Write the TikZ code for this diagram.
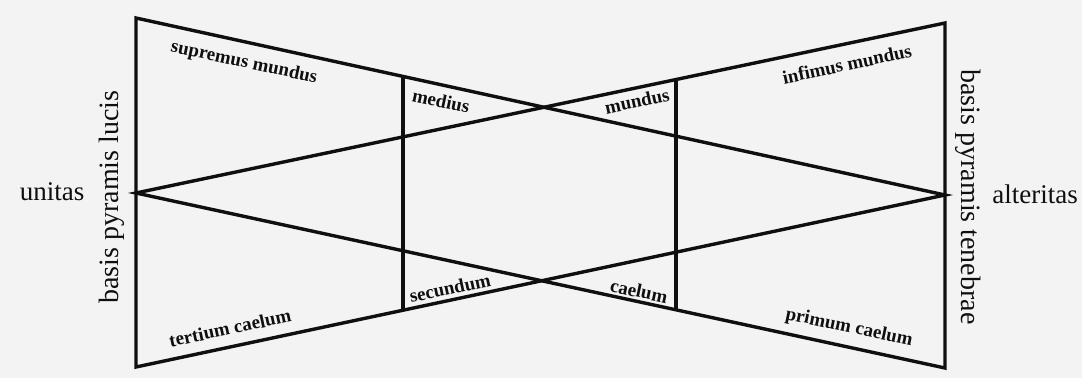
\documentclass[tikz,border=0pt]{standalone}
\usepackage{fontspec}
\setmainfont{Liberation Serif}
\definecolor{ink}{RGB}{15,15,15}
\definecolor{paper}{RGB}{243,243,243}
\usetikzlibrary{calc}
\tikzset{
  edge/.style={draw=ink,line width=3.4pt,line join=miter},
  lbl/.style={font=\fontsize{19}{19}\selectfont\bfseries,text=ink,inner sep=0pt},
  side/.style={font=\fontsize{27}{27}\selectfont,text=ink,inner sep=0pt},
  basis/.style={font=\fontsize{28}{28}\selectfont,text=ink,inner sep=0pt},
}

\begin{document}
\begin{tikzpicture}[x=1pt,y=-1pt]
    \fill[paper] (0,0) rectangle (1082,378);
    \useasboundingbox (0,0) rectangle (1082,378);
    % the two pyramids
    \coordinate (tl) at (136,18);  \coordinate (bl) at (136,367);
    \coordinate (un) at (136,193);
    \coordinate (tr) at (945,23);  \coordinate (br) at (945,368);
    \coordinate (al) at (945,195);
    \coordinate (lt) at ($(tl)!0.33!(al)$);   \coordinate (lb) at ($(bl)!0.33!(al)$);
    \coordinate (rt) at ($(un)!0.6675!(tr)$); \coordinate (rb) at ($(un)!0.6675!(br)$);
    \draw[edge] (tl) -- (bl) -- (al) -- cycle;
    \draw[edge] (tr) -- (br) -- (un) -- cycle;
    \draw[edge] (lt) -- (lb);
    \draw[edge] (rt) -- (rb);
    % outer labels
    \node[side] (unit) at (52,192) {unitas};
    \node[side] (alter) at (1035,194) {alteritas};
    \node[basis,rotate=90] (lucis) at (112,197) {basis pyramis lucis};
    \node[basis,rotate=-90] (teneb) at (968,197) {basis pyramis tenebrae};
    % inner labels
    \node[lbl,rotate=-12] (sup) at (244,63) {supremus mundus};
    \node[lbl,rotate=-12] (med) at (441,101) {medius};
    \node[lbl,rotate=12] (mun) at (637,101) {mundus};
    \node[lbl,rotate=12] (inf) at (847,64) {infimus mundus};
    \node[lbl,rotate=12] (ter) at (230,328) {tertium caelum};
    \node[lbl,rotate=12] (sec) at (450,288) {secundum};
    \node[lbl,rotate=-12] (cae) at (639,291) {caelum};
    \node[lbl,rotate=-12] (pri) at (849,328) {primum caelum};
  \end{tikzpicture}
\end{document}
